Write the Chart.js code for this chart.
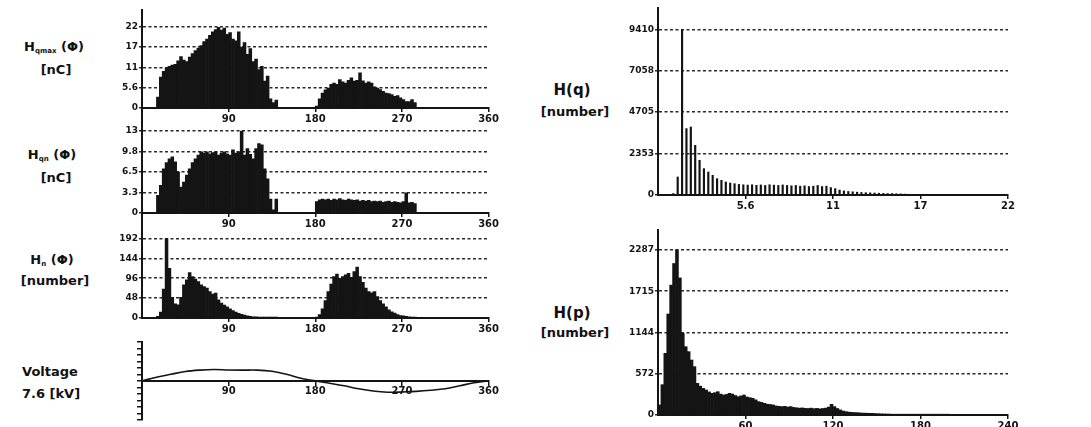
<!DOCTYPE html>
<html lang="en">
<head>
<meta charset="UTF-8">
<title>Partial discharge patterns</title>
<script src="https://cdn.jsdelivr.net/npm/chart.js"></script>
<style>
  body { margin: 0; background: #fff; width: 1091px; height: 427px; overflow: hidden; position: relative; font-family: 'DejaVu Sans', sans-serif; color: #111; }
  canvas { position: absolute; }
  .lbl { position: absolute; font-weight: bold; font-size: 13px; white-space: nowrap; transform: translate(-50%, -50%); }
  .lbl sub { font-size: 7px; vertical-align: -2px; }
  .big { font-size: 15px; }
</style>
</head>
<body>
<div class="lbl" style="left:54px;top:47px">H<sub>qmax</sub> (Φ)</div>
<div class="lbl" style="left:56px;top:69px">[nC]</div>
<div class="lbl" style="left:52px;top:155px">H<sub>qn</sub> (Φ)</div>
<div class="lbl" style="left:56px;top:177px">[nC]</div>
<div class="lbl" style="left:52px;top:260px">H<sub>n</sub> (Φ)</div>
<div class="lbl" style="left:55px;top:280px">[number]</div>
<div class="lbl" style="left:50px;top:371px">Voltage</div>
<div class="lbl" style="left:51px;top:393px">7.6 [kV]</div>
<div class="lbl big" style="left:572px;top:90px">H(q)</div>
<div class="lbl" style="left:575px;top:111px">[number]</div>
<div class="lbl big" style="left:572px;top:313px">H(p)</div>
<div class="lbl" style="left:575px;top:332px">[number]</div>

<canvas id="hqmax" width="400" height="122" style="left:100px;top:0px"></canvas>
<canvas id="hqn" width="400" height="127" style="left:100px;top:100px"></canvas>
<canvas id="hn" width="400" height="127" style="left:100px;top:205px"></canvas>
<canvas id="volt" width="400" height="97" style="left:100px;top:330px"></canvas>
<canvas id="hq" width="420" height="209" style="left:600px;top:0px"></canvas>
<canvas id="hp" width="420" height="207" style="left:600px;top:222px"></canvas>

<script>
// phase windows: 3 degree bins from 0 to 360
const phaseStep = 3;
const phaseBins = Array.from({ length: 120 }, (_, i) => i * phaseStep + phaseStep / 2);
const phaseTicks = [90, 180, 270, 360];

// max charge per phase window [nC]
const hqmaxValues = [
  0, 0, 0, 0, 0, 3, 8.5, 10.1, 11, 11.5,
  11.8, 12, 13, 14.2, 13.2, 12.8, 14, 15, 15.8, 16.5,
  17.2, 18.3, 19, 20, 21, 21.6, 22.2, 21.5, 22, 20.3,
  20.8, 19, 18.5, 21, 16.8, 18, 14.8, 16.4, 12.8, 13.5,
  10.6, 11.5, 7.4, 8.8, 2.5, 1.5, 2.2, 0, 0, 0,
  0, 0, 0, 0, 0, 0, 0, 0, 0, 0,
  0.5, 2.5, 4.1, 5, 5.5, 6.5, 6.9, 6.5, 7.8, 7.2,
  6.9, 7.6, 8.3, 7.4, 7.6, 9.7, 7.5, 6.9, 7.2, 6.9,
  5.8, 5.5, 5.1, 4.6, 4.1, 4.0, 3.7, 3.2, 3.4, 2.8,
  2.3, 1.8, 1.8, 2.3, 1.5, 0, 0, 0, 0, 0,
  0, 0, 0, 0, 0, 0, 0, 0, 0, 0,
  0, 0, 0, 0, 0, 0, 0, 0, 0, 0
];
const hqmaxTicks = [0, 5.6, 11.2, 16.8, 22.4];
const hqmaxLabels = ['0', '5.6', '11', '17', '22'];

// mean charge per phase window [nC]
const hqnValues = [
  0, 0, 0, 0, 0, 2.8, 4.4, 7, 8, 8.6,
  8.9, 8.1, 6.5, 4.1, 4.9, 6, 7, 8, 8.6, 9.2,
  9.7, 9.5, 9.7, 9.4, 9.6, 9.7, 9.2, 9.5, 9.7, 9.4,
  9.2, 10, 9.5, 9.7, 13, 9.2, 10.2, 9.3, 8.6, 10.2,
  11, 10.8, 7, 5.4, 2.2, 0.5, 2.2, 0, 0, 0,
  0, 0, 0, 0, 0, 0, 0, 0, 0, 0,
  1.8, 2.1, 2.2, 2.1, 2.2, 2.0, 2.2, 2.1, 2.3, 2.1,
  2.0, 2.2, 2.1, 2.0, 2.1, 1.9, 2.0, 1.9, 2.0, 1.8,
  1.9, 1.8, 1.9, 1.7, 1.8, 1.9, 1.7, 1.8, 1.7, 1.6,
  1.8, 3.2, 1.6, 1.7, 1.5, 0, 0, 0, 0, 0,
  0, 0, 0, 0, 0, 0, 0, 0, 0, 0,
  0, 0, 0, 0, 0, 0, 0, 0, 0, 0
];
const hqnTicks = [0, 3.25, 6.5, 9.75, 13];
const hqnLabels = ['0', '3.3', '6.5', '9.8', '13'];

// pulse count per phase window
const hnValues = [
  0, 0, 0, 0, 0, 4, 14, 70, 192, 120,
  50, 34, 32, 50, 80, 92, 110, 100, 94, 88,
  80, 76, 72, 64, 58, 60, 44, 36, 31, 27,
  22, 18, 14, 11, 9, 7, 5, 4, 3, 3,
  2, 2, 2, 1, 1, 1, 1, 0, 0, 0,
  0, 0, 0, 0, 0, 0, 0, 0, 0, 0,
  2, 8, 22, 42, 64, 82, 100, 106, 96, 100,
  104, 108, 98, 112, 123, 100, 86, 72, 64, 61,
  64, 52, 42, 34, 27, 20, 15, 12, 8, 6,
  5, 4, 3, 2, 1, 0, 0, 0, 0, 0,
  0, 0, 0, 0, 0, 0, 0, 0, 0, 0,
  0, 0, 0, 0, 0, 0, 0, 0, 0, 0
];
const hnTicks = [0, 48, 96, 144, 192];
const hnLabels = ['0', '48', '96', '144', '192'];

// test voltage over one cycle [kV]
const voltagePhase = [0, 15, 30, 45, 60, 75, 90, 105, 120, 135, 150, 165, 180,
  195, 210, 225, 240, 255, 270, 285, 300, 315, 330, 345, 360];
const voltageKV = [0, 2.4, 4.4, 6.3, 7.2, 7.6, 7.3, 7.2, 7.2, 6.4, 4.5, 1.8, 0,
  -1.6, -3.3, -5.3, -6.8, -7.6, -7.4, -7.0, -6.3, -5.3, -3.3, -1.2, 0];
const voltageTicks = [-26, -21.7, -17.3, -13, -8.7, -4.3, 0, 4.3, 8.7, 13, 17.3, 21.7, 26];

// charge distribution H(q), 0.28 nC classes
const chargeBins = Array.from({ length: 80 }, (_, k) => k * 0.28 + 0.14);
const hqCounts = [
  0, 0, 0, 100, 1040, 9410, 3790, 3880, 2840, 1990,
  1515, 1325, 1136, 947, 852, 758, 700, 660, 620, 600,
  580, 600, 570, 590, 560, 600, 580, 560, 590, 560,
  540, 560, 520, 540, 500, 520, 560, 500, 520, 440,
  380, 300, 250, 220, 200, 180, 160, 150, 140, 130,
  120, 110, 100, 100, 90, 80, 70, 60, 40, 0,
  0, 0, 0, 0, 0, 0, 0, 0, 0, 0,
  0, 0, 0, 0, 0, 0, 0, 0, 0, 0
];
const hqTicks = [0, 2353, 4705, 7058, 9410];
const hqXTicks = [5.6, 11.2, 16.8, 22.4];
const hqXLabels = ['5.6', '11', '17', '22'];

// pulse distribution H(p), 2-unit classes
const pulseBins = Array.from({ length: 120 }, (_, k) => k * 2 + 1);
const hpCounts = [
  140, 420, 855, 1400, 1800, 2100, 2287, 1900, 1132, 947,
  878, 762, 670, 439, 400, 370, 347, 320, 300, 310,
  323, 290, 277, 285, 300, 290, 270, 254, 265, 277,
  250, 240, 231, 210, 185, 175, 162, 150, 145, 139,
  125, 120, 116, 120, 110, 116, 105, 100, 95, 98,
  92, 90, 95, 88, 92, 85, 90, 95, 110, 148,
  116, 90, 70, 55, 46, 40, 36, 34, 32, 28,
  26, 25, 23, 23, 20, 18, 16, 15, 14, 12,
  11, 10, 9, 8, 7, 6, 6, 5, 5, 4,
  4, 3, 3, 3, 2, 2, 2, 2, 2, 1,
  0, 0, 0, 0, 0, 0, 0, 0, 0, 0,
  0, 0, 0, 0, 0, 0, 0, 0, 0, 0
];
const hpTicks = [0, 572, 1144, 1715, 2287];
const hpXTicks = [60, 120, 180, 240];

const ink = '#141414';
const dotted = '#2a2a2a';

function tickFont(size) {
  return { family: 'DejaVu Sans', size: size, weight: 'bold' };
}

function fixedTicks(values) {
  return scale => { scale.ticks = values.map(v => ({ value: v })); };
}

function xAxis(min, max, ticks, labels) {
  return {
    type: 'linear', min: min, max: max, offset: false,
    afterBuildTicks: fixedTicks(ticks),
    afterFit: s => { s.height = 14; },
    grid: { drawOnChartArea: false, offset: false, tickLength: 4, color: ink, lineWidth: 1.5 },
    border: { color: ink, width: 2 },
    ticks: {
      font: tickFont(10), color: ink, padding: 1, maxRotation: 0, autoSkip: false,
      callback: (v, i) => labels ? labels[i] : String(v)
    }
  };
}

function yAxis(max, ticks, labels, width) {
  return {
    min: 0, max: max,
    afterBuildTicks: fixedTicks(ticks),
    afterFit: s => { s.width = width; },
    grid: { color: dotted, lineWidth: 1.6, tickLength: 3 },
    border: { color: ink, width: 2, dash: [3, 2.5] },
    ticks: {
      font: tickFont(9), color: ink, padding: 1, autoSkip: false,
      callback: (v, i) => labels ? labels[i] : String(v)
    }
  };
}

function baseOptions(padding) {
  return {
    responsive: false,
    animation: false,
    events: [],
    layout: { padding: padding },
    plugins: { legend: { display: false }, tooltip: { enabled: false } }
  };
}

function histogram(id, bins, values, barPct, padding, scales) {
  const opts = baseOptions(padding);
  opts.scales = scales;
  return new Chart(document.getElementById(id), {
    type: 'bar',
    data: {
      datasets: [{
        data: bins.map((b, i) => ({ x: b, y: values[i] })),
        backgroundColor: ink,
        borderWidth: 0,
        barPercentage: barPct,
        categoryPercentage: 1
      }]
    },
    options: opts
  });
}

// phase resolved panels
histogram('hqmax', phaseBins, hqmaxValues, 1, { top: 10, right: 10 }, {
  x: xAxis(0, 360, phaseTicks),
  y: yAxis(27.0, hqmaxTicks, hqmaxLabels, 42)
});
histogram('hqn', phaseBins, hqnValues, 1, { top: 8, right: 10 }, {
  x: xAxis(0, 360, phaseTicks),
  y: yAxis(16.65, hqnTicks, hqnLabels, 42)
});
histogram('hn', phaseBins, hnValues, 1, { top: 8, right: 10 }, {
  x: xAxis(0, 360, phaseTicks),
  y: yAxis(253.6, hnTicks, hnLabels, 42)
});

// voltage trace with the phase axis through zero
const voltOpts = baseOptions({ top: 12, right: 10, bottom: 2 });
voltOpts.scales = {
  x: Object.assign(xAxis(0, 360, phaseTicks), { position: { y: 0 } }),
  y: {
    min: -26, max: 26,
    afterBuildTicks: fixedTicks(voltageTicks),
    afterFit: s => { s.width = 42; },
    grid: { drawOnChartArea: false, color: ink, lineWidth: 1.5, tickLength: 5 },
    border: { color: ink, width: 2 },
    ticks: { display: true, autoSkip: false, padding: 0, callback: () => '' }
  }
};
new Chart(document.getElementById('volt'), {
  type: 'line',
  data: {
    datasets: [{
      data: voltagePhase.map((p, i) => ({ x: p, y: voltageKV[i] })),
      borderColor: ink,
      borderWidth: 1.6,
      pointRadius: 0,
      tension: 0.35,
      fill: false
    }]
  },
  options: voltOpts
});

// charge and pulse distributions
histogram('hq', chargeBins, hqCounts, 0.5, { top: 8, right: 12 }, {
  x: xAxis(0, 22.4, hqXTicks, hqXLabels),
  y: yAxis(10620, hqTicks, null, 58)
});
histogram('hp', pulseBins, hpCounts, 1, { top: 8, right: 12 }, {
  x: xAxis(0, 240, hpXTicks),
  y: yAxis(2564, hpTicks, null, 58)
});
</script>
</body>
</html>
